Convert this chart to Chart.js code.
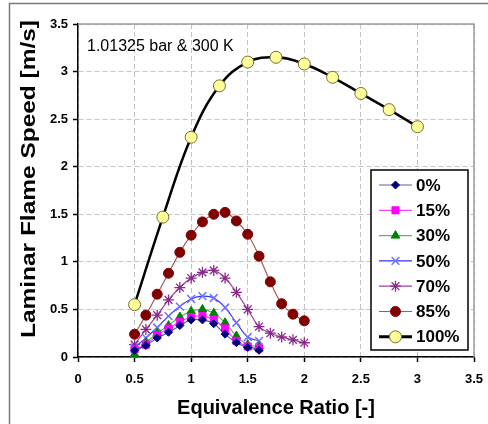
<!DOCTYPE html>
<html>
<head>
<meta charset="utf-8">
<script src="https://cdn.jsdelivr.net/npm/chart.js@4.4.1/dist/chart.umd.min.js"></script>
<style>
html, body { margin: 0; padding: 0; background: #fff; }
#wrap { position: relative; width: 488px; height: 424px; }
</style>
</head>
<body>
<div id="wrap"><canvas id="chart" width="488" height="424"></canvas></div>
<script>
// --- data ---
const seriesLabels = ['0%', '15%', '30%', '50%', '70%', '85%', '100%'];

const phiLean = [0.5, 0.6, 0.7, 0.8, 0.9, 1.0, 1.1, 1.2, 1.3, 1.4, 1.5, 1.6];
const phiWide = [0.5, 0.6, 0.7, 0.8, 0.9, 1.0, 1.1, 1.2, 1.3, 1.4, 1.5, 1.6, 1.7, 1.8, 1.9, 2.0];
const phiFull = [0.5, 0.75, 1.0, 1.25, 1.5, 1.75, 2.0, 2.25, 2.5, 2.75, 3.0];

const speed0   = [0.07, 0.12, 0.20, 0.26, 0.33, 0.39, 0.39, 0.35, 0.24, 0.15, 0.10, 0.07];
const speed15  = [0.08, 0.13, 0.23, 0.30, 0.37, 0.42, 0.43, 0.39, 0.30, 0.17, 0.11, 0.09];
const speed30  = [0.03, 0.15, 0.25, 0.33, 0.42, 0.48, 0.50, 0.46, 0.36, 0.22, 0.13, 0.11];
const speed50  = [0.10, 0.20, 0.31, 0.43, 0.53, 0.61, 0.64, 0.62, 0.52, 0.36, 0.21, 0.17];
const speed70  = [0.13, 0.29, 0.44, 0.60, 0.73, 0.83, 0.89, 0.91, 0.83, 0.68, 0.50, 0.32, 0.25, 0.21, 0.18, 0.15];
const speed85  = [0.24, 0.44, 0.66, 0.88, 1.10, 1.28, 1.42, 1.50, 1.52, 1.43, 1.29, 1.06, 0.79, 0.56, 0.45, 0.38];
const speed100 = [0.55, 1.47, 2.31, 2.85, 3.10, 3.15, 3.08, 2.94, 2.77, 2.60, 2.42];

const axisTicks = [0, 0.5, 1, 1.5, 2, 2.5, 3, 3.5];
const noteText = '1.01325 bar & 300 K';

const FONT = "'Liberation Sans', Arial, sans-serif";

const toXY = (xs, ys) => xs.map((x, i) => ({ x: x, y: ys[i] }));

function series(label, xs, ys, style) {
    return Object.assign({
        label: label,
        data: toXY(xs, ys),
        tension: 0.4,
        borderWidth: 1.2,
        clip: false,
        pointBorderWidth: 1
    }, style);
}

const datasets = [
    series(seriesLabels[0], phiLean, speed0, {
        borderColor: 'rgba(40,40,140,0.75)', pointStyle: 'rectRot', pointRadius: 4,
        pointBackgroundColor: '#000080', pointBorderColor: '#000080'
    }),
    series(seriesLabels[1], phiLean, speed15, {
        borderColor: 'rgba(255,0,255,0.75)', pointStyle: 'rect', pointRadius: 5,
        pointBackgroundColor: '#ff00ff', pointBorderColor: '#ff00ff'
    }),
    series(seriesLabels[2], phiLean, speed30, {
        borderColor: 'rgba(0,128,0,0.6)', pointStyle: 'triangle', pointRadius: 5,
        pointBackgroundColor: '#008000', pointBorderColor: '#008000'
    }),
    series(seriesLabels[3], phiLean, speed50, {
        borderColor: 'rgba(0,0,255,0.8)', pointStyle: 'crossRot', pointRadius: 5.5,
        pointBackgroundColor: '#7070ff', pointBorderColor: '#7070ff', pointBorderWidth: 1.5
    }),
    series(seriesLabels[4], phiWide, speed70, {
        borderColor: 'rgba(128,0,128,0.75)', pointStyle: 'star', pointRadius: 5.5,
        pointBackgroundColor: '#800080', pointBorderColor: '#8a2a8a', pointBorderWidth: 1.3
    }),
    series(seriesLabels[5], phiWide, speed85, {
        borderColor: 'rgba(150,60,60,0.85)', pointStyle: 'circle', pointRadius: 5,
        pointBackgroundColor: '#800000', pointBorderColor: '#800000'
    }),
    series(seriesLabels[6], phiFull, speed100, {
        borderColor: '#000000', borderWidth: 2.5, pointStyle: 'circle', pointRadius: 6,
        pointBackgroundColor: '#ffff99', pointBorderColor: '#6f6f3a', pointBorderWidth: 1
    })
];

function axis(titleText, pad, fit) {
    return {
        type: 'linear',
        min: axisTicks[0],
        max: axisTicks[axisTicks.length - 1],
        afterBuildTicks: s => { s.ticks = axisTicks.map(v => ({ value: v })); },
        ticks: {
            color: '#000', padding: pad,
            font: { family: FONT, size: 13, weight: 'bold' },
            callback: v => String(v)
        },
        grid: { color: '#c4c4c4', lineWidth: 1, tickColor: '#000', tickLength: 5, tickWidth: 1.5 },
        border: { color: '#000', width: 1.5, dash: [5, 3] },
        title: titleText ? {
            display: true, text: titleText, color: '#000',
            font: { family: FONT, size: 20, weight: 'bold' }, padding: { top: 0, bottom: 4 }
        } : { display: false },
        afterFit: fit
    };
}

// frame, outer border, note, y title and boxed legend
const decorations = {
    id: 'decorations',
    beforeDatasetsDraw(chart) {
        const { ctx, chartArea: a } = chart;
        ctx.save();
        ctx.strokeStyle = '#9a9a9a';
        ctx.lineWidth = 1.5;
        ctx.beginPath();
        ctx.moveTo(a.left, a.top);
        ctx.lineTo(a.right, a.top);
        ctx.lineTo(a.right, a.bottom);
        ctx.stroke();
        ctx.restore();
    },
    afterDraw(chart) {
        const ctx = chart.ctx;
        ctx.save();

        // outer chart border
        ctx.strokeStyle = '#7a7a7a';
        ctx.lineWidth = 1.5;
        ctx.beginPath();
        ctx.moveTo(9.5, 424);
        ctx.lineTo(9.5, 3.5);
        ctx.lineTo(488, 3.5);
        ctx.stroke();

        // note
        ctx.fillStyle = '#000';
        ctx.font = '16px ' + FONT;
        ctx.textAlign = 'left';
        ctx.textBaseline = 'middle';
        ctx.fillText(noteText, 87, 47);

        // y title
        ctx.save();
        ctx.translate(29.5, 179);
        ctx.rotate(-Math.PI / 2);
        ctx.font = 'bold 20px ' + FONT;
        const w = ctx.measureText('Laminar Flame Speed [m/s]').width;
        ctx.scale(318 / w, 1);
        ctx.textAlign = 'center';
        ctx.fillText('Laminar Flame Speed [m/s]', 0, 0);
        ctx.restore();

        // legend box
        const bx = 371, by = 170, bw = 97, bh = 180;
        ctx.fillStyle = '#fff';
        ctx.fillRect(bx, by, bw, bh);
        ctx.strokeStyle = '#000';
        ctx.lineWidth = 1.5;
        ctx.strokeRect(bx, by, bw, bh);

        chart.data.datasets.forEach((ds, i) => {
            const y = 185 + i * 25.3;
            ctx.strokeStyle = ds.borderColor;
            ctx.lineWidth = ds.borderWidth === 2.5 ? 3 : 1.2;
            ctx.beginPath();
            ctx.moveTo(379, y);
            ctx.lineTo(412, y);
            ctx.stroke();
            ctx.fillStyle = ds.pointBackgroundColor;
            ctx.strokeStyle = ds.pointBorderColor;
            ctx.lineWidth = ds.pointBorderWidth;
            Chart.helpers.drawPoint(ctx, {
                pointStyle: ds.pointStyle, radius: ds.pointRadius, rotation: 0,
                borderWidth: ds.pointBorderWidth
            }, 395.5, y);
            ctx.fillStyle = '#000';
            ctx.font = 'bold 17px ' + FONT;
            ctx.textAlign = 'left';
            ctx.textBaseline = 'middle';
            ctx.fillText(ds.label, 416, y + 1);
        });
        ctx.restore();
    }
};

new Chart(document.getElementById('chart'), {
    type: 'line',
    data: { datasets: datasets },
    plugins: [decorations],
    options: {
        responsive: false,
        animation: false,
        devicePixelRatio: 1,
        layout: { padding: { left: 0, top: 24, right: 14, bottom: 0 } },
        plugins: { legend: { display: false }, tooltip: { enabled: false } },
        scales: {
            x: axis('Equivalence Ratio [-]', 10, s => { s.height = 67; s.paddingLeft = 0; s.paddingRight = 0; }),
            y: axis(null, 5, s => { s.width = 78; s.paddingTop = 0; s.paddingBottom = 0; })
        }
    }
});
</script>
</body>
</html>
